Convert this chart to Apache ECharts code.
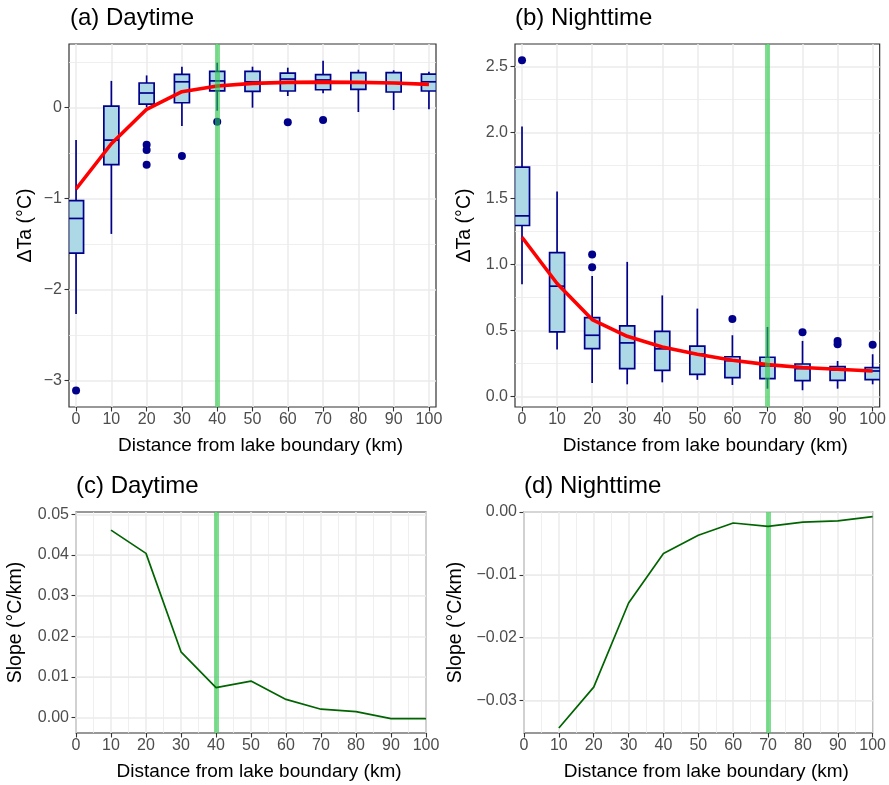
<!DOCTYPE html>
<html><head><meta charset="utf-8">
<script src="https://cdn.jsdelivr.net/npm/echarts@6/dist/echarts.min.js"></script>
<style>html,body{margin:0;padding:0;background:#fff}#c{width:889px;height:785px}</style>
</head><body><div id="c"></div>
<script>
// ---------------- DATA ----------------
const distances = [0, 10, 20, 30, 40, 50, 60, 70, 80, 90, 100];

// (a) Daytime boxplots
const dayLow = [-2.27, -1.39, 0.0, -0.205, -0.037, -0.004, 0.124, 0.153, -0.052, -0.03, -0.022];
const dayQ1  = [-1.60, -0.63, 0.036, 0.05, 0.18, 0.175, 0.179, 0.193, 0.197, 0.168, 0.179];
const dayMed = [-1.22, -0.36, 0.157, 0.28, 0.29, 0.28, 0.31, 0.30, 0.27, 0.27, 0.28];
const dayQ3  = [-1.025, 0.014, 0.267, 0.362, 0.395, 0.395, 0.376, 0.358, 0.38, 0.38, 0.365];
const dayHigh = [-0.36, 0.29, 0.35, 0.446, 0.49, 0.446, 0.435, 0.51, 0.413, 0.406, 0.39];
const dayOutliers = [[0, -3.11], [20, -0.41], [20, -0.47], [20, -0.63], [30, -0.535], [40, -0.158], [60, -0.165], [70, -0.14]];
const dayFit = [-0.897, -0.40, -0.022, 0.171, 0.234, 0.263, 0.274, 0.277, 0.274, 0.267, 0.252];

// (b) Nighttime boxplots
const nightLow = [0.85, 0.354, 0.101, 0.091, 0.106, 0.125, 0.086, 0.058, 0.046, 0.058, 0.091];
const nightQ1  = [1.295, 0.488, 0.362, 0.21, 0.197, 0.167, 0.142, 0.134, 0.119, 0.121, 0.127];
const nightMed = [1.368, 0.835, 0.463, 0.405, 0.36, 0.32, 0.27, 0.23, 0.21, 0.2, 0.192];
const nightQ3  = [1.737, 1.09, 0.597, 0.534, 0.492, 0.38, 0.30, 0.296, 0.245, 0.225, 0.218];
const nightHigh = [2.046, 1.553, 0.913, 1.019, 0.765, 0.665, 0.463, 0.526, 0.42, 0.268, 0.319];
const nightOutliers = [[0, 2.547], [20, 1.075], [20, 0.979], [60, 0.587], [80, 0.486], [90, 0.42], [90, 0.395], [100, 0.39]];
const nightFit = [1.206, 0.855, 0.582, 0.455, 0.374, 0.319, 0.273, 0.24, 0.218, 0.205, 0.192];

// (c)/(d) slopes
const slopeDistances = [10, 20, 30, 40, 50, 60, 70, 80, 90, 100];
const daySlope = [0.0461, 0.0404, 0.0162, 0.0074, 0.0090, 0.0045, 0.0021, 0.0015, -0.0002, -0.0002];
const nightSlope = [-0.0344, -0.0279, -0.0145, -0.0066, -0.0037, -0.00175, -0.0023, -0.0016, -0.0014, -0.00075];

// thresholds
const dayThreshold = 40;
const nightThreshold = 70;

// tick labels
const distTicks = [0, 10, 20, 30, 40, 50, 60, 70, 80, 90, 100];
const dayTicksY = [-3, -2, -1, 0];
const nightTicksY = [0, 0.5, 1.0, 1.5, 2.0, 2.5];
const daySlopeTicksY = [0, 0.01, 0.02, 0.03, 0.04, 0.05];
const nightSlopeTicksY = [-0.03, -0.02, -0.01, 0];

const titles = ['(a) Daytime', '(b) Nighttime', '(c) Daytime', '(d) Nighttime'];
const xTitle = 'Distance from lake boundary (km)';
const yTitleTop = 'ΔTa (°C)';
const yTitleBottom = 'Slope (°C/km)';

// ---------------- STYLE / LAYOUT ----------------
const FONT = '"Liberation Sans", Arial, Helvetica, sans-serif';
const NAVY = '#00008b';
const BOXFILL = '#add8e6';
const GREEN = 'rgba(40,200,70,0.6)';
const GRID_C = '#ebebeb';

const layout = [
  {left: 69, top: 44, width: 367, height: 363, xmin: -2, xmax: 102, ymin: -3.29, ymax: 0.695, dec: 0, yGap: 33, minorX: false},
  {left: 515, top: 44, width: 367, height: 363, xmin: -2, xmax: 102, ymin: -0.081, ymax: 2.671, dec: 1, yGap: 40, minorX: false},
  {left: 76, top: 512, width: 350, height: 221, xmin: 0, xmax: 100, ymin: -0.00375, ymax: 0.05056, dec: 2, yGap: 50, minorX: true},
  {left: 524, top: 512, width: 350, height: 221, xmin: 0, xmax: 100, ymin: -0.0352, ymax: 0, dec: 2, yGap: 58, minorX: true}
];
const titlePos = [[70, 6], [515, 6], [76, 474], [524, 474]];
const yTicksList = [dayTicksY, nightTicksY, daySlopeTicksY, nightSlopeTicksY];

function fmt(v, d) {
  const r = Number(v.toFixed(d + 3));
  if (Math.abs(r) < 1e-12) return (0).toFixed(d);
  return (r < 0 ? '\u2212' : '') + Math.abs(r).toFixed(d);
}
function minorsOf(ticks, lo, hi) {
  const step = ticks[1] - ticks[0];
  const out = [];
  for (let i = -1; i < ticks.length; i++) {
    const m = ticks[0] + (i + 0.5) * step;
    if (m > lo && m < hi) out.push(m);
  }
  return out;
}

const grids = [], xAxes = [], yAxes = [], series = [];
const title = titles.map((t, i) => ({
  text: t, left: titlePos[i][0], top: titlePos[i][1], padding: 0,
  textStyle: {fontSize: 24, fontWeight: 'normal', color: '#000', fontFamily: FONT}
}));

layout.forEach((L, i) => {
  grids.push({left: L.left, top: L.top, width: L.width, height: L.height, show: true,
    borderColor: '#333333', borderWidth: 1.2, backgroundColor: '#fff', containLabel: false});
  xAxes.push({type: 'value', gridIndex: i, min: L.xmin, max: L.xmax,
    axisLine: {show: false, onZero: false},
    axisTick: {show: true, length: 4.5, lineStyle: {color: '#333', width: 1.1}, customValues: distTicks},
    axisLabel: {show: true, customValues: distTicks, margin: 5, color: '#4d4d4d', fontSize: 16, fontFamily: FONT,
      formatter: v => fmt(v, 0)},
    splitLine: {show: false},
    name: xTitle, nameLocation: 'middle', nameGap: 29,
    nameTextStyle: {fontSize: 19, color: '#000', fontFamily: FONT, padding: [0, 0, 0, 16]}
  });
  const yt = yTicksList[i];
  yAxes.push({type: 'value', gridIndex: i, min: L.ymin, max: L.ymax,
    axisLine: {show: false, onZero: false},
    axisTick: {show: true, length: 4.5, lineStyle: {color: '#333', width: 1.1}, customValues: yt},
    axisLabel: {show: true, customValues: yt, margin: 7, color: '#4d4d4d', fontSize: 16, fontFamily: FONT,
      formatter: v => fmt(v, L.dec)},
    splitLine: {show: false},
    name: i < 2 ? yTitleTop : yTitleBottom, nameLocation: 'middle', nameGap: L.yGap, nameRotate: 90,
    nameTextStyle: {fontSize: 19.5, color: '#000', fontFamily: FONT}
  });
  // grid lines via markLine (through the axis scales)
  const minorY = minorsOf(yt, L.ymin, L.ymax);
  const minorXv = L.minorX ? minorsOf(distTicks, L.xmin, L.xmax) : [];
  const noSym = ['none', 'none'];
  series.push({type: 'line', xAxisIndex: i, yAxisIndex: i, data: [], silent: true, z: 1,
    markLine: {silent: true, z: 1, symbol: noSym, label: {show: false}, animation: false,
      lineStyle: {color: GRID_C, width: 0.8, type: 'solid'},
      data: minorY.map(v => ({yAxis: v})).concat(minorXv.map(v => ({xAxis: v})))}});
  series.push({type: 'line', xAxisIndex: i, yAxisIndex: i, data: [], silent: true, z: 1,
    markLine: {silent: true, z: 1, symbol: noSym, label: {show: false}, animation: false,
      lineStyle: {color: GRID_C, width: 1.5, type: 'solid'},
      data: yt.map(v => ({yAxis: v})).concat(distTicks.map(v => ({xAxis: v})))}});
});

function boxRenderer(params, api) {
  const x = api.value(0);
  const pLo = api.coord([x, api.value(1)]);
  const pQ1 = api.coord([x, api.value(2)]);
  const pMd = api.coord([x, api.value(3)]);
  const pQ3 = api.coord([x, api.value(4)]);
  const pHi = api.coord([x, api.value(5)]);
  const hw = 7.5, cx = pMd[0];
  const ls = () => ({stroke: NAVY, lineWidth: 1.7, fill: null});
  return {type: 'group', children: [
    {type: 'line', shape: {x1: cx, y1: pHi[1], x2: cx, y2: pQ3[1]}, style: ls()},
    {type: 'line', shape: {x1: cx, y1: pQ1[1], x2: cx, y2: pLo[1]}, style: ls()},
    {type: 'rect', shape: {x: cx - hw, y: pQ3[1], width: 2 * hw, height: pQ1[1] - pQ3[1]},
      style: {fill: BOXFILL, stroke: NAVY, lineWidth: 1.7}},
    {type: 'line', shape: {x1: cx - hw, y1: pMd[1], x2: cx + hw, y2: pMd[1]}, style: ls()}
  ]};
}

const boxSets = [
  [dayLow, dayQ1, dayMed, dayQ3, dayHigh, dayOutliers, dayFit, dayThreshold],
  [nightLow, nightQ1, nightMed, nightQ3, nightHigh, nightOutliers, nightFit, nightThreshold]
];
boxSets.forEach((s, i) => {
  const [lo, q1, md, q3, hi, outl, fit, thr] = s;
  series.push({type: 'custom', xAxisIndex: i, yAxisIndex: i, z: 3, clip: true,
    renderItem: boxRenderer, encode: {x: 0, y: [1, 2, 3, 4, 5]},
    data: distances.map((d, k) => [d, lo[k], q1[k], md[k], q3[k], hi[k]])});
  series.push({type: 'scatter', xAxisIndex: i, yAxisIndex: i, z: 4, symbolSize: 8,
    itemStyle: {color: NAVY, opacity: 1}, data: outl});
  series.push({type: 'line', xAxisIndex: i, yAxisIndex: i, z: 5, symbol: 'none',
    lineStyle: {color: '#ff0000', width: 3.6}, data: distances.map((d, k) => [d, fit[k]])});
  series.push({type: 'line', xAxisIndex: i, yAxisIndex: i, data: [], z: 10,
    markLine: {silent: true, z: 10, symbol: ['none', 'none'], label: {show: false}, animation: false,
      lineStyle: {color: GREEN, width: 5, type: 'solid'}, data: [{xAxis: thr}]}});
});

[[daySlope, dayThreshold], [nightSlope, nightThreshold]].forEach((s, j) => {
  const i = j + 2;
  series.push({type: 'line', xAxisIndex: i, yAxisIndex: i, z: 5, symbol: 'none',
    lineStyle: {color: '#006400', width: 1.7}, data: slopeDistances.map((d, k) => [d, s[0][k]])});
  series.push({type: 'line', xAxisIndex: i, yAxisIndex: i, data: [], z: 4,
    markLine: {silent: true, z: 4, symbol: ['none', 'none'], label: {show: false}, animation: false,
      lineStyle: {color: GREEN, width: 5, type: 'solid'}, data: [{xAxis: s[1]}]}});
});

const chart = echarts.init(document.getElementById('c'), null, {renderer: 'canvas'});
chart.setOption({
  animation: false,
  backgroundColor: '#fff',
  textStyle: {fontFamily: FONT},
  title: title,
  grid: grids,
  xAxis: xAxes,
  yAxis: yAxes,
  series: series
});
</script>
</body></html>
